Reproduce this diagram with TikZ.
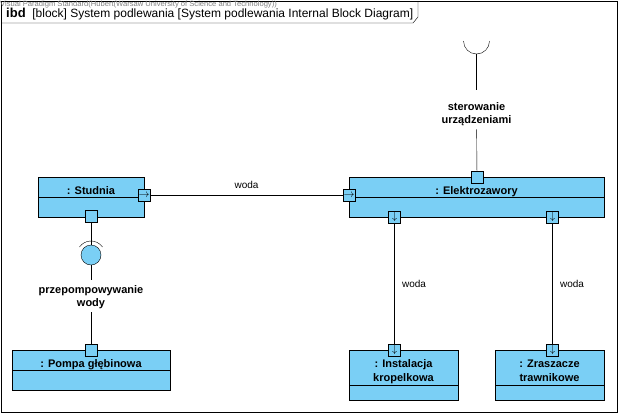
\documentclass[tikz,border=0pt]{standalone}
\usepackage{fontspec}
\setmainfont{Liberation Sans}
\usetikzlibrary{calc, positioning, backgrounds}
\definecolor{blockblue}{RGB}{122,207,245}
\begin{document}
\begin{tikzpicture}[x=1pt, y=-1pt, every node/.style={font=\fontsize{11}{13}\selectfont}, align=center]
\useasboundingbox (0,0) rectangle (618,413);

\tikzstyle{block name}=[rectangle,draw,fill=blockblue,inner sep=0pt,text height=14pt,text depth=0pt,font=\fontsize{11}{14}\selectfont\bfseries]
\tikzstyle{block part}=[rectangle,draw,fill=blockblue,inner sep=0pt,minimum height=20pt]
\tikzstyle{port}=[rectangle,draw,fill=blockblue,minimum size=12pt,inner sep=0pt,font=\fontsize{11}{11}\selectfont]
\tikzstyle{lolli}=[circle,draw,fill=blockblue,minimum size=20pt,inner sep=0pt]
\tikzstyle{iface}=[font=\fontsize{11}{13.5}\selectfont\bfseries]
\tikzstyle{flow}=[font=\fontsize{10}{12}\selectfont]

% ramka diagramu
\draw (1,1) rectangle (617,412);
\draw (1,23) -- (413,23) -- (418,17) -- (418,1);
\node[anchor=north west, inner sep=0pt, text=black!50, font=\fontsize{7.6}{7.6}\selectfont] (stamp) at (0,0.5)
    {Visual Paradigm Standard(Hubert(Warsaw University of Science and Technology))};
\node[anchor=base west, inner sep=0pt, font=\fontsize{12}{14}\selectfont] (title) at (6,17)
    {{\fontsize{13}{14}\selectfont\textbf{ibd}}\ \ [block] System podlewania [System podlewania Internal Block Diagram]};

% bloki
\node[block name, minimum width=106pt, minimum height=20pt] (studnia) at (91,187) {: Studnia};
\node[block part, minimum width=106pt, below=0pt of studnia] (studniaP) {};

\node[block name, minimum width=255pt, minimum height=20pt] (elektro) at (476.5,187) {: Elektrozawory};
\node[block part, minimum width=255pt, below=0pt of elektro] (elektroP) {};

\node[block name, minimum width=158pt, minimum height=20pt] (pompa) at (91,360) {: Pompa głębinowa};
\node[block part, minimum width=158pt, below=0pt of pompa] (pompaP) {};

\node[block name, text height=27pt, minimum width=109pt, minimum height=35pt] (instal) at (403.5,367.5) {: Instalacja\\kropelkowa};
\node[block part, minimum width=109pt, minimum height=15pt, below=0pt of instal] (instalP) {};

\node[block name, text height=27pt, minimum width=109pt, minimum height=35pt] (zrasz) at (549.5,367.5) {: Zraszacze\\trawnikowe};
\node[block part, minimum width=109pt, minimum height=15pt, below=0pt of zrasz] (zraszP) {};

% porty
\node[port] (studniaR) at (144,195) {$\rightarrow$};
\node[port] (studniaB) at (91,216) {};
\node[port] (elektroL) at (349,195) {$\rightarrow$};
\node[port] (elektroT) at (477,177) {};
\node[port] (elektroB1) at (394.5,217) {$\downarrow$};
\node[port] (elektroB2) at (552.5,217) {$\downarrow$};
\node[port] (pompaT) at (91,350) {};
\node[port] (instalT) at (394.5,350) {$\downarrow$};
\node[port] (zraszT) at (552.5,350) {$\downarrow$};

% interfejs przepompowywania
\node[lolli] (pump) at (91,255) {};
\draw ($(91,255)+(35:14pt)$) arc[start angle=35, end angle=145, radius=14pt];
\node[iface] (pumpL) at (91,297) {przepompowywanie\\wody};
\coordinate (pumpE) at (91,280);

% interfejs sterowania
\coordinate (sock) at (476.5,54);
\coordinate (sockE) at (476.5,90);
\draw ($(476.5,41)+(180:13pt)$) arc[start angle=180, end angle=360, radius=13pt];
\node[iface] (sterL) at (476.5,114) {sterowanie\\urządzeniami};

% połączenia pod blokami
\begin{scope}[on background layer]
\draw (studniaB) -- (pump);
\draw (pump) -- (pumpE);
\draw (pumpL) -- (pompaT);
\draw (sock) -- (sockE);
\draw (sterL) -- (elektroT);
\draw (studniaR) -- node[flow, above=3pt] {woda} (elektroL);
\draw (elektroB1) -- node[flow, right=4pt] {woda} (instalT);
\draw (elektroB2) -- node[flow, right=4pt] {woda} (zraszT);
\end{scope}

\end{tikzpicture}
\end{document}
